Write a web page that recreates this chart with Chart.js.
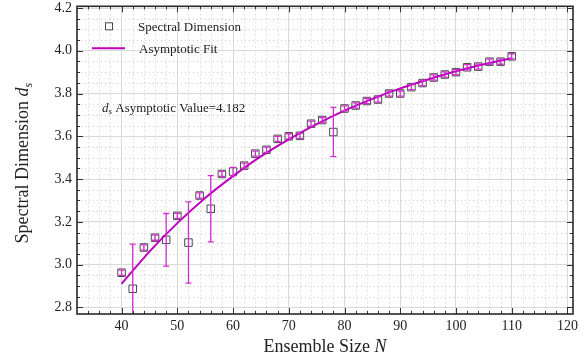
<!DOCTYPE html>
<html>
<head>
<meta charset="utf-8">
<script src="https://cdn.jsdelivr.net/npm/chart.js@4.4.0/dist/chart.umd.min.js"></script>
<style>
  html, body { margin: 0; padding: 0; background: #fff; }
  #wrap { width: 585px; height: 360px; }
</style>
</head>
<body>
<div id="wrap"><canvas id="dimChart" width="585" height="360"></canvas></div>
<script>
// measured points
const ensembleSizes = [40, 42, 44, 46, 48, 50, 52, 54, 56, 58, 60, 62, 64, 66, 68, 70, 72, 74,
                       76, 78, 80, 82, 84, 86, 88, 90, 92, 94, 96, 98, 100, 102, 104, 106, 108, 110];
const spectralDims = [2.962, 2.887, 3.080, 3.126, 3.116, 3.228, 3.103, 3.323, 3.261, 3.424, 3.435, 3.463,
                      3.519, 3.537, 3.588, 3.600, 3.602, 3.659, 3.676, 3.620, 3.730, 3.744, 3.765, 3.772,
                      3.800, 3.800, 3.830, 3.849, 3.875, 3.889, 3.900, 3.923, 3.926, 3.949, 3.949, 3.974];
const dimErrors = [0.012, 0.209, 0.012, 0.012, 0.123, 0.012, 0.190, 0.012, 0.155, 0.012, 0.020, 0.012,
                   0.012, 0.012, 0.012, 0.012, 0.012, 0.012, 0.012, 0.115, 0.012, 0.012, 0.012, 0.012,
                   0.012, 0.012, 0.012, 0.012, 0.012, 0.012, 0.012, 0.012, 0.012, 0.012, 0.012, 0.012];

// fit curve
const fitSizes = [40, 45, 50, 55, 60, 65, 70, 75, 80, 85, 90, 95, 100, 105, 110];
const fitValues = [2.910, 3.061, 3.194, 3.312, 3.414, 3.506, 3.586, 3.657, 3.720, 3.775, 3.824, 3.866, 3.904, 3.937, 3.965];
const asymptote = 4.182;

const xTickLabels = [40, 50, 60, 70, 80, 90, 100, 110, 120];
const yTickLabels = [2.8, 3.0, 3.2, 3.4, 3.6, 3.8, 4.0, 4.2];

const MAGENTA = '#bd00bd';
const ERR_COLOR = '#d22cd2';
const SQUARE_COLOR = '#4a4a4a';
const SERIF = '"Liberation Serif", "Times New Roman", serif';

Chart.defaults.font.family = SERIF;
Chart.defaults.color = '#222';

// draw text pieces one after another (for italic / subscript bits)
function drawPieces(ctx, pieces, x, y) {
  let cx = x;
  pieces.forEach(function(p) {
    ctx.font = p.font;
    ctx.fillText(p.text, cx, y + (p.dy || 0));
    cx += ctx.measureText(p.text).width;
  });
}
function piecesWidth(ctx, pieces) {
  let w = 0;
  pieces.forEach(function(p) { ctx.font = p.font; w += ctx.measureText(p.text).width; });
  return w;
}

const extrasPlugin = {
  id: 'extras',
  beforeDatasetsDraw(chart) {
    const ctx = chart.ctx, a = chart.chartArea;
    const xs = chart.scales.x, ys = chart.scales.y;
    ctx.save();
    // minor dotted grid
    ctx.strokeStyle = '#c9c9c9';
    ctx.lineWidth = 1;
    ctx.setLineDash([1, 3]);
    for (let v = 34; v <= 120; v += 2) {
      if (v % 10 === 0) continue;
      const px = Math.round(xs.getPixelForValue(v)) + 0.5;
      ctx.beginPath(); ctx.moveTo(px, a.top); ctx.lineTo(px, a.bottom); ctx.stroke();
    }
    for (let k = 56; k <= 84; k++) {
      if (k % 4 === 0) continue;
      const py = Math.round(ys.getPixelForValue(k * 0.05)) + 0.5;
      ctx.beginPath(); ctx.moveTo(a.left, py); ctx.lineTo(a.right, py); ctx.stroke();
    }
    ctx.restore();
  },
  afterDatasetsDraw(chart) {
    const ctx = chart.ctx, a = chart.chartArea;
    const xs = chart.scales.x, ys = chart.scales.y;
    ctx.save();
    ctx.beginPath();
    ctx.rect(a.left, a.top, a.right - a.left, a.bottom - a.top);
    ctx.clip();
    ctx.strokeStyle = ERR_COLOR;
    ctx.lineWidth = 1.3;
    ensembleSizes.forEach(function(n, i) {
      const px = xs.getPixelForValue(n);
      const top = ys.getPixelForValue(spectralDims[i] + dimErrors[i]);
      const bot = ys.getPixelForValue(spectralDims[i] - dimErrors[i]);
      ctx.beginPath();
      ctx.moveTo(px, top); ctx.lineTo(px, bot);
      ctx.moveTo(px - 3, top); ctx.lineTo(px + 3, top);
      ctx.moveTo(px - 3, bot); ctx.lineTo(px + 3, bot);
      ctx.stroke();
    });
    ctx.restore();
  },
  afterDraw(chart) {
    const ctx = chart.ctx, a = chart.chartArea;
    const xs = chart.scales.x, ys = chart.scales.y;
    ctx.save();
    // inward ticks on all four sides
    ctx.strokeStyle = '#333';
    ctx.lineWidth = 1;
    for (let v = 34; v <= 120; v += 2) {
      const px = Math.round(xs.getPixelForValue(v)) + 0.5;
      const len = v % 10 === 0 ? 6 : 3;
      ctx.beginPath();
      ctx.moveTo(px, a.bottom); ctx.lineTo(px, a.bottom - len);
      ctx.moveTo(px, a.top); ctx.lineTo(px, a.top + len);
      ctx.stroke();
    }
    for (let k = 56; k <= 84; k++) {
      const py = Math.round(ys.getPixelForValue(k * 0.05)) + 0.5;
      const len = k % 4 === 0 ? 6 : 3;
      ctx.beginPath();
      ctx.moveTo(a.left, py); ctx.lineTo(a.left + len, py);
      ctx.moveTo(a.right, py); ctx.lineTo(a.right - len, py);
      ctx.stroke();
    }
    // frame
    ctx.strokeStyle = '#2a2a2a';
    ctx.lineWidth = 1.6;
    ctx.strokeRect(a.left, a.top, a.right - a.left, a.bottom - a.top);

    // legend
    ctx.fillStyle = '#222';
    ctx.textBaseline = 'middle';
    ctx.strokeStyle = SQUARE_COLOR;
    ctx.lineWidth = 1;
    ctx.strokeRect(a.left + 28.5, a.top + 16.5, 7, 7);
    ctx.font = '13px ' + SERIF;
    ctx.fillText('Spectral Dimension', a.left + 61, a.top + 21);
    ctx.strokeStyle = MAGENTA;
    ctx.lineWidth = 2;
    ctx.beginPath(); ctx.moveTo(a.left + 15, a.top + 42); ctx.lineTo(a.left + 48, a.top + 42); ctx.stroke();
    ctx.fillText('Asymptotic Fit', a.left + 62, a.top + 43);

    // asymptotic value note
    drawPieces(ctx, [
      { text: 'd', font: 'italic 13px ' + SERIF },
      { text: 's', font: 'italic 9px ' + SERIF, dy: 3 },
      { text: ' Asymptotic Value=' + asymptote.toFixed(3), font: '13px ' + SERIF }
    ], a.left + 25, a.top + 102);

    // axis titles
    ctx.textBaseline = 'alphabetic';
    const xTitle = [
      { text: 'Ensemble Size ', font: '18px ' + SERIF },
      { text: 'N', font: 'italic 18px ' + SERIF }
    ];
    const xw = piecesWidth(ctx, xTitle);
    drawPieces(ctx, xTitle, (a.left + a.right) / 2 - xw / 2, 352);

    const yTitle = [
      { text: 'Spectral Dimension ', font: '18px ' + SERIF },
      { text: 'd', font: 'italic 18px ' + SERIF },
      { text: 's', font: 'italic 12px ' + SERIF, dy: 4 }
    ];
    const yw = piecesWidth(ctx, yTitle);
    ctx.translate(28, (a.top + a.bottom) / 2 + 3);
    ctx.rotate(-Math.PI / 2);
    drawPieces(ctx, yTitle, -yw / 2, 0);
    ctx.restore();
  }
};

const ctx = document.getElementById('dimChart').getContext('2d');

const dimChart = new Chart(ctx, {
  type: 'scatter',
  data: {
    datasets: [{
      type: 'line',
      label: 'Asymptotic Fit',
      data: fitSizes.map(function(n, i) { return { x: n, y: fitValues[i] }; }),
      borderColor: MAGENTA,
      borderWidth: 2,
      pointRadius: 0,
      fill: false,
      cubicInterpolationMode: 'monotone'
    }, {
      label: 'Spectral Dimension',
      data: ensembleSizes.map(function(n, i) { return { x: n, y: spectralDims[i] }; }),
      pointStyle: 'rect',
      pointRadius: 5.3,
      borderColor: SQUARE_COLOR,
      backgroundColor: 'rgba(0,0,0,0)',
      borderWidth: 1,
      showLine: false
    }]
  },
  options: {
    responsive: false,
    animation: false,
    devicePixelRatio: 1,
    layout: { padding: { top: 4, right: 12, left: 0, bottom: 0 } },
    scales: {
      x: {
        type: 'linear',
        min: 32,
        max: 121,
        afterFit: function(s) { s.height = 46; s.paddingLeft = 0; s.paddingRight = 0; },
        afterBuildTicks: function(s) { s.ticks = xTickLabels.map(function(v) { return { value: v }; }); },
        ticks: { font: { size: 14 }, color: '#222', padding: 4, maxRotation: 0,
                 callback: function(v) { return String(v); } },
        grid: { color: '#dadada', lineWidth: 1, drawTicks: false },
        border: { display: false }
      },
      y: {
        min: 2.769,
        max: 4.208,
        afterFit: function(s) { s.width = 77; s.paddingTop = 0; s.paddingBottom = 0; },
        afterBuildTicks: function(s) { s.ticks = yTickLabels.map(function(v) { return { value: v }; }); },
        ticks: { font: { size: 14 }, color: '#222', padding: 5,
                 callback: function(v) { return v.toFixed(1); } },
        grid: { color: '#dadada', lineWidth: 1, drawTicks: false },
        border: { display: false }
      }
    },
    plugins: {
      legend: { display: false },
      tooltip: { enabled: false }
    }
  },
  plugins: [extrasPlugin]
});
</script>
</body>
</html>
